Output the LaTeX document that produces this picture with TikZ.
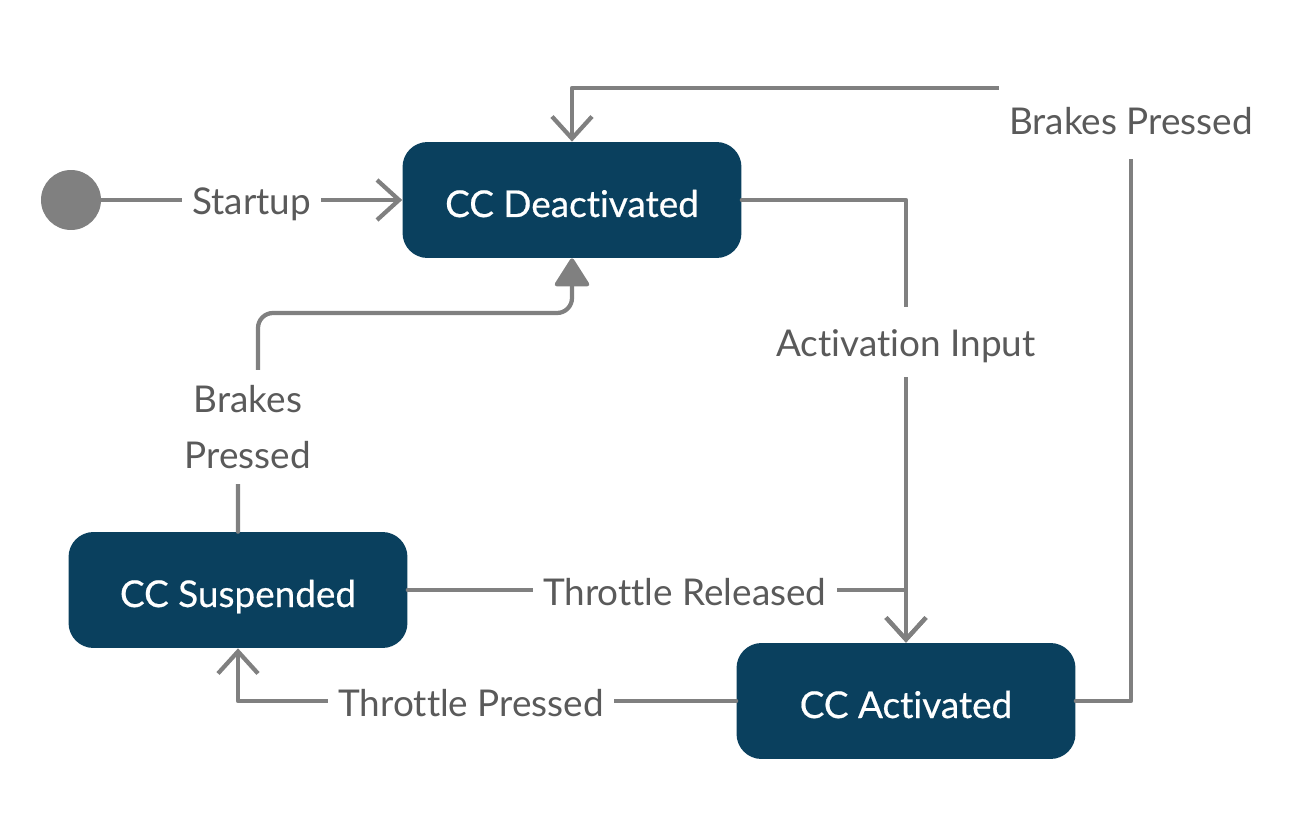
\documentclass[tikz,border=0pt]{standalone}
\usepackage{fontspec}
\setmainfont{Lato}[Ligatures=NoCommon]
\newfontfamily\statefont{Lato}[Ligatures=NoCommon, FakeBold=0.5]
\usetikzlibrary{arrows.meta}
\definecolor{ccblue}{HTML}{0A405E}
\definecolor{ccline}{HTML}{808080}
\definecolor{cctext}{HTML}{5A5A5A}
\tikzset{
  state/.style={rectangle, rounded corners=0.5cm, fill=ccblue, text=white,
    minimum width=6.78cm, minimum height=2.32cm, text height=0.78cm, text depth=0.1cm,
    font=\statefont\fontsize{21}{26}\selectfont},
  trans/.style={draw=ccline, line width=0.085cm, line join=round, line cap=round,
    -{Straight Barb[length=0.44cm, width=0.8cm]}},
  lbl/.style={fill=white, text=cctext, inner xsep=0.2cm, inner ysep=0.3cm,
    font=\fontsize{21}{32}\selectfont, align=center},
  lblone/.style={lbl, text height=0.7cm, text depth=0.1cm}
}

\begin{document}
\begin{tikzpicture}[x=0.02cm, y=-0.02cm]
			%%%%% START %%%%%
			\useasboundingbox (0,0) rectangle (1305,818);
			
			\node[state] (deact) at (572,200) {CC Deactivated};
			\node[state] (susp) at (238,590) {CC Suspended};
			\node[state] (act) at (906,701) {CC Activated};
			\node[circle, fill=ccline, minimum size=1.2cm, inner sep=0] (init) at (71,200) {};
			
			\coordinate (bend) at (1131,88);
			
			\draw[trans] (init) -- node[lblone] (startlbl) {Startup} (deact);
			\draw[trans] (deact.east) -| node[lblone, pos=0.66] (actlbl) {Activation Input} (act.north);
			\draw[trans] (susp.east) -| node[lblone, pos=0.278] (rellbl) {Throttle Released} (act.north);
			\draw[trans] (act.west) -| node[lblone, pos=0.266] (presslbl) {Throttle Pressed} (susp.south);
			\draw[trans] (act.east) -| node[lblone, pos=0.974, inner ysep=0.38cm] (brakelblr) {Brakes Pressed} (bend) -| (deact.north);
			
			\draw[trans, rounded corners=0.3cm, -{Triangle[length=0.6cm, width=0.74cm, round]}]
				(susp.north) -- (238,427) -- node[lbl] (brakelbll) {Brakes\\Pressed} (258,427)
				-- (258,313) -- (572,313) -- (deact.south);
			
			%%%%% END %%%%%
\end{tikzpicture}
\end{document}
